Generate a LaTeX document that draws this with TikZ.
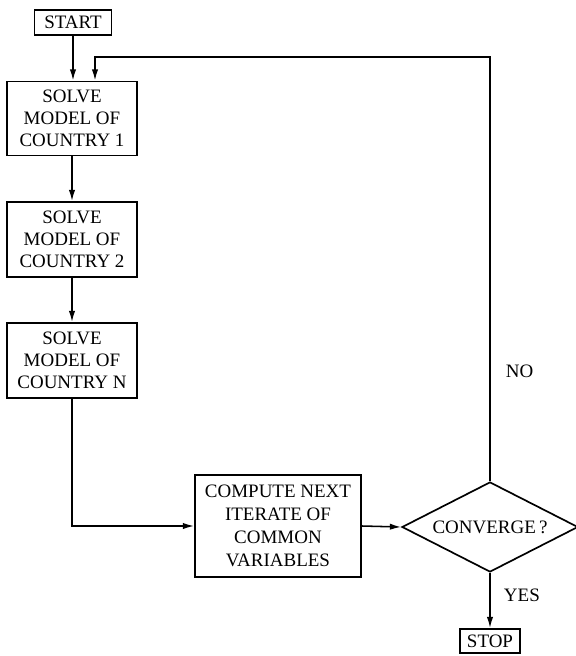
\documentclass[tikz,border=0pt]{standalone}
\usepackage{fontspec}
\setmainfont{Liberation Serif}
\usetikzlibrary{arrows.meta}
\usetikzlibrary{shapes.geometric}

\tikzset{
  box/.style={rectangle, draw, line width=1.2pt, align=center, inner sep=0pt,
    font=\fontsize{13.5}{15.6}\selectfont},
  decision/.style={diamond, draw, line width=1.2pt, inner xsep=-30pt, inner ysep=0pt,
    minimum width=4.4cm, minimum height=2.25cm, font=\fontsize{13.5}{15.6}\selectfont},
  flow/.style={-{Latex[length=8pt, width=4.5pt]}, line width=1.1pt},
  tag/.style={anchor=west, font=\fontsize{13.5}{15.6}\selectfont}
}

\begin{document}
\begin{tikzpicture}[x=0.025cm, y=-0.025cm]
  \useasboundingbox (0,0) rectangle (575,656);

  \node[box, minimum width=1.925cm, minimum height=0.625cm] (start) at (73,22.5) {START};
  \node[box, minimum width=3.25cm, minimum height=1.85cm] (solve1) at (72,118.5) {SOLVE\\MODEL OF\\COUNTRY 1};
  \node[box, minimum width=3.25cm, minimum height=1.875cm] (solve2) at (72,239.5) {SOLVE\\MODEL OF\\COUNTRY 2};
  \node[box, minimum width=3.25cm, minimum height=1.875cm] (solveN) at (72,360.5) {SOLVE\\MODEL OF\\COUNTRY N};
  \node[box, minimum width=4.15cm, minimum height=2.55cm, font=\fontsize{13.5}{16.2}\selectfont] (iterate) at (278,526) {COMPUTE NEXT\\ITERATE OF\\COMMON\\VARIABLES};
  \node[decision] (converge) at (490,527) {CONVERGE\,?};
  \node[box, minimum width=1.5cm, minimum height=0.6cm] (stop) at (490,641) {STOP};

  \coordinate (back) at (95,57);

  \draw[flow] (start.south) -- (start.south |- solve1.north);
  \draw[flow] (solve1) -- (solve2);
  \draw[flow] (solve2) -- (solveN);
  \draw[flow] (solveN.south) |- (iterate.west);
  \draw[flow] (iterate.east) -- (converge.west);
  \draw[flow] (converge.south) -- (stop.north);
  \draw[flow] (converge.north) |- (back) -- (back |- solve1.north);

  \node[tag] (no) at (501,371) {NO};
  \node[tag] (yes) at (499,595) {YES};
\end{tikzpicture}
\end{document}
